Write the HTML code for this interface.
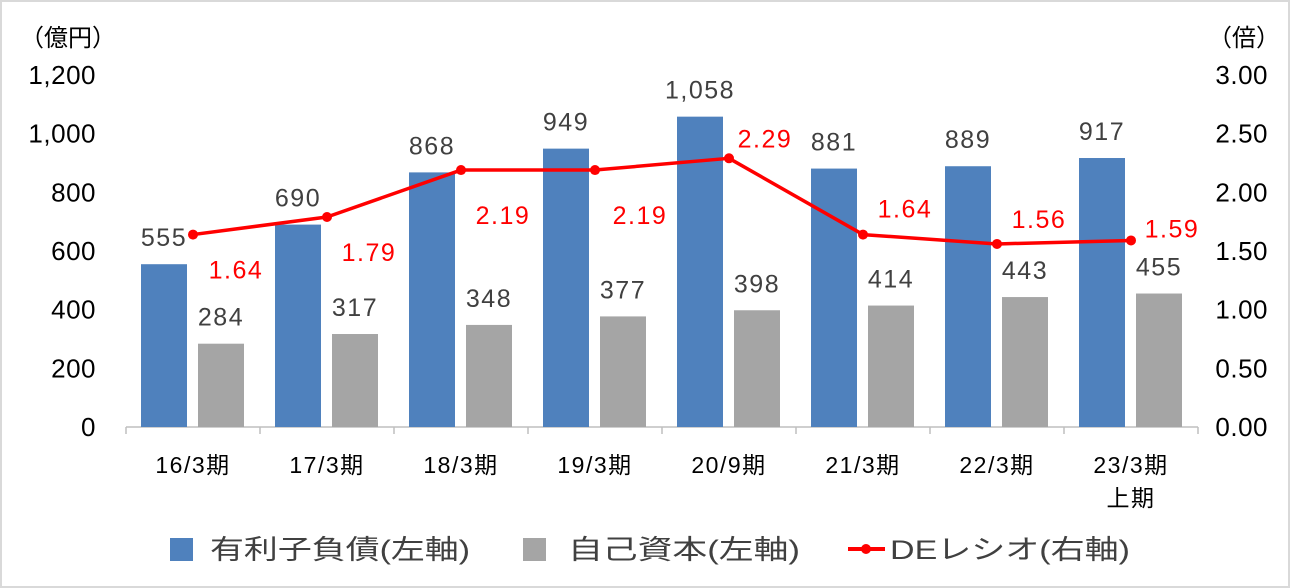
<!DOCTYPE html>
<html><head><meta charset="utf-8"><style>
body{margin:0;background:#fff}
svg{display:block;font-family:"Liberation Sans","Noto Sans CJK JP",sans-serif}
</style></head><body>
<svg id="chart" width="1290" height="588">
<rect x="1" y="1" width="1288" height="586" fill="#fff" stroke="#d9d9d9" stroke-width="2"/>
<text x="20" y="46" font-size="24" fill="#000">（億円）</text>
<text x="1208" y="46" font-size="24" fill="#000">（倍）</text>
<g id="axes"></g><g id="bars"></g><g id="line"></g><g id="labels"></g>
<g>
<rect x="170" y="538" width="23" height="23" fill="#4f81bd"/>
<text x="210" y="559" font-size="27" fill="#404040" textLength="260" lengthAdjust="spacingAndGlyphs">有利子負債(左軸)</text>
<rect x="523" y="538" width="23" height="23" fill="#a5a5a5"/>
<text x="568" y="559" font-size="27" fill="#404040" textLength="232" lengthAdjust="spacingAndGlyphs">自己資本(左軸)</text>
<line x1="848" y1="549" x2="885" y2="549" stroke="#ff0000" stroke-width="4"/>
<circle cx="866" cy="549" r="5" fill="#ff0000"/>
<text x="890" y="559" font-size="27" fill="#404040" textLength="240" lengthAdjust="spacingAndGlyphs">DEレシオ(右軸)</text>
</g>
</svg>
<script>
const categories=["16/3期","17/3期","18/3期","19/3期","20/9期","21/3期","22/3期","23/3期\n上期"];
const debt=[555,690,868,949,1058,881,889,917];
const equity=[284,317,348,377,398,414,443,455];
const deRatio=[1.64,1.79,2.19,2.19,2.29,1.64,1.56,1.59];
const leftTicks=[0,200,400,600,800,1000,1200];
const rightTicks=[0,0.5,1,1.5,2,2.5,3];
const deLabelOffsets=[[43,35],[42,35],[42,45],[45,45],[36,-20],[42,-26],[42,-25],[41,-12]];
const NS="http://www.w3.org/2000/svg";
const X0=126,X1=1198,Y0=427,Y1=75;
const bw=(X1-X0)/categories.length;
const yL=v=>Y0-(v/1200)*(Y0-Y1);
const yR=v=>Y0-(v/3)*(Y0-Y1);
const xC=i=>X0+bw*(i+0.5);
function mk(tag,attrs,parent,text){const e=document.createElementNS(NS,tag);for(const k in attrs)e.setAttribute(k,attrs[k]);if(text!==undefined)e.textContent=text;document.getElementById(parent).appendChild(e);return e;}
const fmt=v=>v.toLocaleString('en-US');
leftTicks.forEach(t=>{const e=mk('text',{x:96,y:yL(t)+9,'font-size':26,'letter-spacing':0.5,'text-anchor':'end',fill:'#000'},'axes',fmt(t));

});
rightTicks.forEach(t=>{const e=mk('text',{x:1268,y:yR(t)+9,'font-size':26,'letter-spacing':0.5,'text-anchor':'end',fill:'#000'},'axes',t.toFixed(2));

});
const ax=mk('line',{x1:X0,y1:Y0,x2:X1,y2:Y0,stroke:'#bfbfbf','stroke-width':1.5},'axes');


for(let i=0;i<=categories.length;i++){const t=mk('line',{x1:X0+bw*i,y1:Y0,x2:X0+bw*i,y2:Y0+7,stroke:'#bfbfbf','stroke-width':1.5},'axes');

}
categories.forEach((c,i)=>{c.split('\n').forEach((ln,j)=>{const e=mk('text',{x:xC(i),y:473+j*33,'font-size':23,'letter-spacing':1.5,'text-anchor':'middle',fill:'#000'},'axes',ln);

});});
debt.forEach((v,i)=>{const x=xC(i)-52;const r=mk('rect',{x:x,y:yL(v),width:46,height:Y0-yL(v),fill:'#4f81bd'},'bars');


const t=mk('text',{x:x+23,y:yL(v)-18,'font-size':25,'letter-spacing':1.5,'text-anchor':'middle',fill:'#404040'},'labels',fmt(v));

});
equity.forEach((v,i)=>{const x=xC(i)+5;const r=mk('rect',{x:x,y:yL(v),width:46,height:Y0-yL(v),fill:'#a5a5a5'},'bars');


const t=mk('text',{x:x+23,y:yL(v)-18,'font-size':25,'letter-spacing':1.5,'text-anchor':'middle',fill:'#404040'},'labels',fmt(v));

});
const pl=mk('polyline',{points:deRatio.map((v,i)=>xC(i)+','+yR(v)).join(' '),fill:'none',stroke:'#ff0000','stroke-width':3.5,'stroke-linejoin':'round'},'line');


deRatio.forEach((v,i)=>{const c=mk('circle',{cx:xC(i),cy:yR(v),r:5,fill:'#ff0000'},'line');


const o=deLabelOffsets[i];
const t=mk('text',{x:xC(i)+o[0],y:yR(v)+o[1]+9,'font-size':25,'letter-spacing':1.5,'text-anchor':'middle',fill:'#ff0000'},'labels',v.toFixed(2));

});
</script>
</body></html>
